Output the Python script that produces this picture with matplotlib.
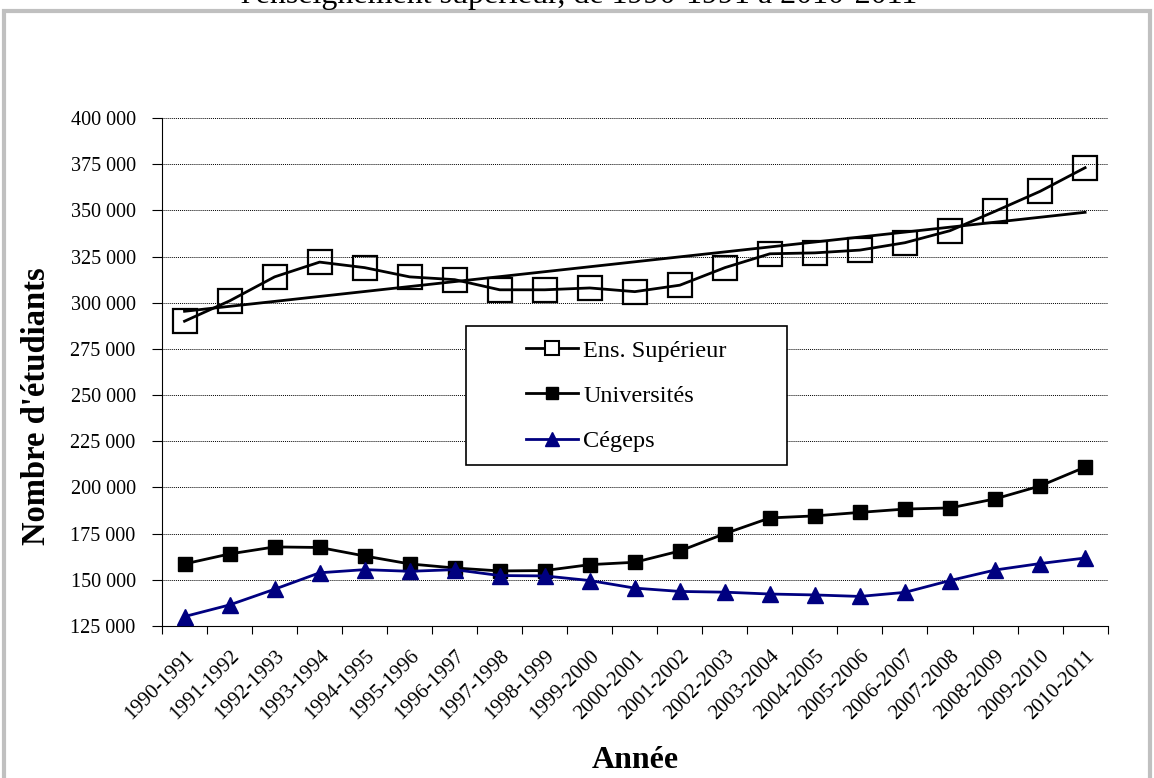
import numpy as np
import matplotlib
matplotlib.use("Agg")
import matplotlib.pyplot as plt
from matplotlib.patches import Rectangle
from matplotlib.lines import Line2D
from matplotlib.ticker import FuncFormatter

plt.rcParams['font.family'] = ['Liberation Serif', 'DejaVu Serif']

annees = ["1990-1991", "1991-1992", "1992-1993", "1993-1994", "1994-1995",
          "1995-1996", "1996-1997", "1997-1998", "1998-1999", "1999-2000",
          "2000-2001", "2001-2002", "2002-2003", "2003-2004", "2004-2005",
          "2005-2006", "2006-2007", "2007-2008", "2008-2009", "2009-2010",
          "2010-2011"]

ens_sup = [290000, 301000, 314000, 322000, 319000, 314000, 312500, 307000,
           307000, 308000, 306000, 309500, 319000, 326500, 327000, 328500,
           332500, 339000, 349500, 360300, 373100]
universites = [158600, 164000, 167800, 167500, 162900, 158600, 156400, 154800,
               155000, 158200, 159500, 165600, 175000, 183500, 184600, 186500,
               188300, 188900, 193800, 200800, 211000]
cegeps = [130100, 136400, 144900, 153800, 155500, 154600, 155500, 152300,
          152100, 149600, 145500, 143700, 143300, 142300, 141800, 141000,
          143200, 149600, 155300, 158800, 161800]

x = np.arange(len(annees)) + 0.5
navy = "#000080"

fig = plt.figure(figsize=(11.54, 7.78), dpi=100)
ax = fig.add_axes([0.1404, 0.1954, 0.8194, 0.6529])

# cadre gris autour du graphique
fig.patches.append(Rectangle((4 / 1154, -0.05), 1146 / 1154, 1.05 - 11 / 778,
                             transform=fig.transFigure, fill=False,
                             edgecolor="#c0c0c0", linewidth=3))
# titre coupé en haut
fig.text(0.502, 1 - 3 / 778, "l'enseignement supérieur, de 1990-1991 à 2010-2011",
         ha="center", va="baseline", fontsize=23)

ax.plot(x, ens_sup, color="black", lw=2, marker="s", markersize=17,
        markerfacecolor="none", markeredgecolor="black", markeredgewidth=1.6,
        zorder=3)
ax.plot(x, universites, color="black", lw=2, marker="s", markersize=10,
        markerfacecolor="black", zorder=3)
ax.plot(x, cegeps, color=navy, lw=2, marker="^", markersize=11,
        markerfacecolor=navy, markeredgecolor=navy, zorder=3)

# tendance linéaire
coef = np.polyfit(x, ens_sup, 1)
ax.plot(x, np.polyval(coef, x), color="black", lw=2, zorder=2)

ax.set_xlim(0, len(annees))
ax.set_ylim(125000, 400000)
ax.set_yticks(np.arange(125000, 400001, 25000))
ax.yaxis.set_major_formatter(FuncFormatter(lambda v, p: f"{int(v):,}".replace(",", " ")))
ax.set_xticks(np.arange(len(annees) + 1))
ax.set_xticks(x, minor=True)
ax.set_xticklabels([])
ax.set_xticklabels(annees, minor=True, rotation=45, ha="right",
                   rotation_mode="anchor", fontsize=15)
ax.tick_params(axis="x", which="minor", length=0, pad=15)
ax.tick_params(axis="x", which="major", length=6, direction="out")
ax.tick_params(axis="y", length=7, direction="out", labelsize=14.5, pad=12)

ax.grid(axis="y", linestyle=(0, (1, 1)), color="black", linewidth=0.7)
ax.set_axisbelow(True)
for s in ["top", "right"]:
    ax.spines[s].set_visible(False)

ax.set_ylabel("Nombre d'étudiants", fontsize=23.5, fontweight="bold")
ax.yaxis.set_label_coords(-0.1163, 0.433)
ax.set_xlabel("Année", fontsize=23, fontweight="bold", labelpad=16)

# légende avec cadre dessiné à part
ax.add_patch(Rectangle((0.3214, 0.3169), 0.3393, 0.2737, transform=ax.transAxes,
                       facecolor="white", edgecolor="black", lw=1.2, zorder=4))
handles = [
    Line2D([], [], color="black", lw=2, marker="s", markersize=10.5,
           markerfacecolor="white", markeredgecolor="black", markeredgewidth=1.5),
    Line2D([], [], color="black", lw=2, marker="s", markersize=8.5,
           markerfacecolor="black"),
    Line2D([], [], color=navy, lw=2, marker="^", markersize=10,
           markerfacecolor=navy, markeredgecolor=navy),
]
leg = ax.legend(handles, ["Ens. Supérieur", "Universités", "Cégeps"],
                loc="center", bbox_to_anchor=(0.491, 0.4528), fontsize=17.5,
                frameon=False, borderpad=0, borderaxespad=0,
                labelspacing=0.95, handlelength=2.15, handletextpad=0.2)
leg.set_zorder(5)

fig.savefig("out.png", dpi=100)
